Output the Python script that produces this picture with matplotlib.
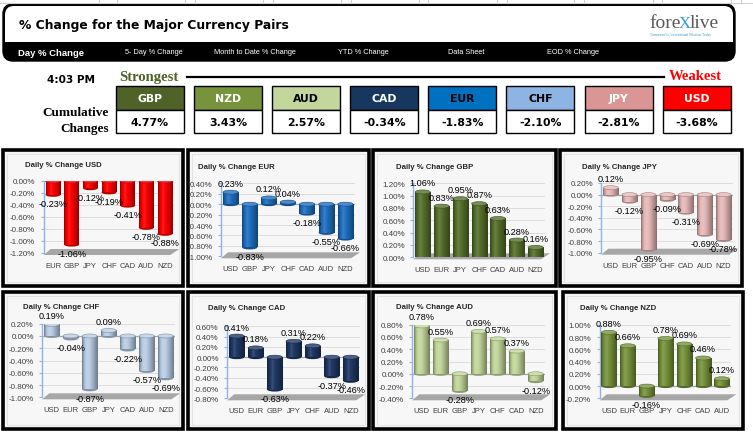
import numpy as np
import matplotlib
matplotlib.use("Agg")
import matplotlib.pyplot as plt
from matplotlib.patches import Rectangle, FancyBboxPatch, Ellipse, Polygon
from matplotlib.colors import to_rgb

W, H = 753, 435

# --- data ---------------------------------------------------------------
rank_ccy = ["GBP", "NZD", "AUD", "CAD", "EUR", "CHF", "JPY", "USD"]
rank_vals = [4.77, 3.43, 2.57, -0.34, -1.83, -2.10, -2.81, -3.68]
rank_colors = ["#4F6228", "#77933C", "#C3D69B", "#17375E", "#0070C0", "#8DB4E2", "#DA9694", "#FF0000"]
rank_txt = ["white", "white", "black", "white", "black", "black", "white", "white"]

usd_cats = ["EUR", "GBP", "JPY", "CHF", "CAD", "AUD", "NZD"]
usd_vals = [-0.23, -1.06, -0.12, -0.19, -0.41, -0.78, -0.88]
eur_cats = ["USD", "GBP", "JPY", "CHF", "CAD", "AUD", "NZD"]
eur_vals = [0.23, -0.83, 0.12, 0.04, -0.18, -0.55, -0.66]
gbp_cats = ["USD", "EUR", "JPY", "CHF", "CAD", "AUD", "NZD"]
gbp_vals = [1.06, 0.83, 0.95, 0.87, 0.63, 0.28, 0.16]
jpy_cats = ["USD", "EUR", "GBP", "CHF", "CAD", "AUD", "NZD"]
jpy_vals = [0.12, -0.12, -0.95, -0.09, -0.31, -0.69, -0.78]
chf_cats = ["USD", "EUR", "GBP", "JPY", "CAD", "AUD", "NZD"]
chf_vals = [0.19, -0.04, -0.87, 0.09, -0.22, -0.57, -0.69]
cad_cats = ["USD", "EUR", "GBP", "JPY", "CHF", "AUD", "NZD"]
cad_vals = [0.41, 0.18, -0.63, 0.31, 0.22, -0.37, -0.46]
aud_cats = ["USD", "EUR", "GBP", "JPY", "CHF", "CAD", "NZD"]
aud_vals = [0.78, 0.55, -0.28, 0.69, 0.57, 0.37, -0.12]
nzd_cats = ["USD", "EUR", "GBP", "JPY", "CHF", "CAD", "AUD"]
nzd_vals = [0.88, 0.66, -0.16, 0.78, 0.69, 0.46, 0.12]

menu_items = ["Day % Change", "5- Day % Change", "Month to Date % Change",
              "YTD % Change", "Data Sheet", "EOD % Change"]

COND = dict(family="DejaVu Sans", fontweight="bold")
LBL = "Liberation Sans"

fig = plt.figure(figsize=(W / 100, H / 100), dpi=100)
fig.patch.set_facecolor("white")

deco = fig.add_axes([0, 0, 1, 1], zorder=0)
deco.set_xlim(0, W)
deco.set_ylim(H, 0)
deco.axis("off")


def frect(x0, y0, x1, y1):
    return [x0 / W, 1 - y1 / H, (x1 - x0) / W, (y1 - y0) / H]


# spreadsheet grid remnants on top
deco.plot([0, W], [4, 4], color="#D0D0D0", lw=0.8)
for gx in [99, 117, 185, 195, 263, 273, 341, 351, 419, 428, 497, 507, 574, 584, 653, 662, 731, 741]:
    deco.plot([gx, gx], [0, 4], color="#D0D0D0", lw=0.8)

# --- header --------------------------------------------------------------
deco.add_patch(FancyBboxPatch((3, 5), 732, 57, boxstyle="round,pad=0,rounding_size=10",
                              fc="black", ec="black", lw=1))
deco.add_patch(FancyBboxPatch((5, 7), 728, 45, boxstyle="round,pad=0,rounding_size=9",
                              fc="white", ec="none"))
deco.add_patch(Rectangle((4, 43), 730, 12, fc="black", ec="none"))
deco.text(19, 25, "% Change for the Major Currency Pairs", fontsize=8.9, va="center", ha="left", **COND)

menu_x = [18, 125, 214, 338, 448, 547]
for i, (mx, m) in enumerate(zip(menu_x, menu_items)):
    deco.text(mx, 53, m, color="white", fontsize=6.8 if i == 0 else 5.3,
              fontweight="bold" if i == 0 else "normal", family=LBL, va="center", ha="left")

# logo
deco.text(649, 28, "fore", family="Liberation Serif", fontsize=14, color="#595959", va="baseline", ha="left")
deco.text(679, 28, "X", family="Liberation Serif", fontsize=12, color="#2E9BD6", va="baseline", ha="left")
deco.text(690, 28, "live", family="Liberation Serif", fontsize=14, color="#595959", va="baseline", ha="left")
deco.text(650, 35, "Tomorrow's Conventional Wisdom Today", family="Liberation Serif", fontsize=2.6,
          color="#2E9BD6", va="center", ha="left")

# --- strongest / weakest row ---------------------------------------------
deco.text(95, 80, "4:03 PM", fontsize=7.6, ha="right", va="center", **COND)
deco.text(119, 77, "Strongest", family="Liberation Serif", fontweight="bold", fontsize=10.5,
          color="#4F6228", ha="left", va="center")
deco.text(722, 77, "Weakest", family="Liberation Serif", fontweight="bold", fontsize=10.5,
          color="#FF0000", ha="right", va="center")
deco.plot([187, 664], [77.5, 77.5], color="black", lw=1.6)
deco.text(109, 113, "Cumulative", family="Liberation Serif", fontweight="bold", fontsize=9.5,
          ha="right", va="center")
deco.text(109, 129, "Changes", family="Liberation Serif", fontweight="bold", fontsize=9.5,
          ha="right", va="center")

for i, (c, v, col, tc) in enumerate(zip(rank_ccy, rank_vals, rank_colors, rank_txt)):
    bx = 116 + i * 78.1
    deco.add_patch(Rectangle((bx, 87), 68, 24, fc=col, ec="black", lw=1))
    deco.add_patch(Rectangle((bx, 111), 68, 23, fc="white", ec="black", lw=1))
    deco.text(bx + 34, 99.5, c, color=tc, fontsize=7.8, ha="center", va="center", **COND)
    deco.text(bx + 34, 123, f"{v:.2f}%", color="black", fontsize=7.8, ha="center", va="center", **COND)


# --- small 3D-ish bar panels ---------------------------------------------
def grad_colors(base, n=48):
    rgb = np.array(to_rgb(base))
    t = np.linspace(0, 1, n)
    s = np.interp(t, [0, 0.12, 0.33, 0.7, 1], [0.6, 0.88, 1.12, 0.85, 0.6])[:, None]
    out = np.where(s > 1, rgb + (1 - rgb) * (s - 1), rgb * s)
    return np.clip(out, 0, 1)[None, :, :]


def panel(box, title, tpos, ax_box, cats, vals, ymin, ymax, base):
    x0, y0, x1, y1 = box
    deco.add_patch(Rectangle((x0, y0), x1 - x0, y1 - y0, fc="#F5F5F5", ec="black", lw=2.6))
    deco.add_patch(Rectangle((x0 + 4, y0 + 4), x1 - x0 - 8, y1 - y0 - 8, fc="#F7F7F7", ec="#E0E0E0", lw=0.6))
    deco.text(tpos[0], tpos[1], title, family=LBL, fontweight="bold", fontsize=5.6,
              color="#262626", ha="left", va="center")

    ax = fig.add_axes(frect(*ax_box), zorder=2)
    ax.patch.set_alpha(0)
    wpx = ax_box[2] - ax_box[0]
    hpx = ax_box[3] - ax_box[1]
    ppu = hpx / (ymax - ymin)
    xs = np.arange(len(cats))

    bars = ax.bar(xs, vals, width=0.8, color=base, edgecolor="none", zorder=3)
    g = grad_colors(base)
    rgb = np.array(to_rgb(base))
    cap_h = 4 / ppu
    for x, v, p in zip(xs, vals, bars):
        lo, hi = min(0, v), max(0, v)
        im = ax.imshow(g, extent=(x - 0.4, x + 0.4, lo, hi), aspect="auto",
                       interpolation="bilinear", zorder=3.5)
        im.set_clip_path(p)
        ax.add_patch(Ellipse((x, lo), 0.8, cap_h, fc=rgb * 0.72, ec="none", zorder=3.4))
        ax.add_patch(Ellipse((x, hi), 0.8, cap_h, fc=np.clip(rgb + (1 - rgb) * 0.2, 0, 1),
                             ec=rgb * 0.7, lw=0.4, zorder=3.6))
        off = 6.5 if v >= 0 else -6.5
        ax.annotate(f"{v:.2f}%", (x, v), xytext=(0, off), textcoords="offset points",
                    ha="center", va="center", fontsize=6.6, family=LBL, color="black", zorder=6)

    ax.set_xlim(-0.5, len(cats) - 0.5)
    ax.set_ylim(ymin, ymax)
    ticks = np.round(np.arange(ymin, ymax + 0.001, 0.2), 2)
    ax.set_yticks(ticks)
    ax.set_yticklabels([f"{abs(t) if t == 0 else t:.2f}%" for t in ticks])
    ax.set_xticks(xs)
    ax.set_xticklabels(cats)
    for s in ["top", "right", "bottom"]:
        ax.spines[s].set_visible(False)
    ax.spines["left"].set_color("#8EB4E3")
    ax.spines["left"].set_linewidth(1)
    ax.tick_params(axis="y", length=2.5, width=0.8, color="#8EB4E3", pad=3.5,
                   labelsize=5.8, labelcolor="#404040")
    ax.tick_params(axis="x", length=0, pad=6.5, labelsize=5.5, labelcolor="#404040")
    for lab in ax.get_xticklabels() + ax.get_yticklabels():
        lab.set_family(LBL)
    ax.yaxis.grid(True, color="#D9D9D9", lw=0.6)
    ax.set_axisbelow(True)
    if ymin < 0 < ymax:
        ax.axhline(0, color="#A6A6A6", lw=0.9, zorder=2)
    # floor of the 3D chart
    fl = [(0, -2 / hpx), ((wpx - 4) / wpx, -2 / hpx), ((wpx + 5) / wpx, 4 / hpx), (7 / wpx, 4 / hpx)]
    ax.add_patch(Polygon(fl, closed=True, transform=ax.transAxes, fc="#A6A6A6", ec="none",
                         clip_on=False, zorder=2.5))
    return ax


panel((3, 151, 183, 287), "Daily % Change USD", (25, 166), (43.7, 182, 174.3, 254),
      usd_cats, usd_vals, -1.2, 0.0, "#FF0000")
panel((188, 151, 369, 287), "Daily % Change EUR", (198, 168), (221, 184.3, 355, 257.3),
      eur_cats, eur_vals, -1.0, 0.4, "#1F6FC0")
panel((373, 151, 556, 287), "Daily % Change GBP", (396, 168), (413.3, 184.3, 545, 258.3),
      gbp_cats, gbp_vals, 0.0, 1.2, "#56702C")
panel((560, 151, 742, 287), "Daily % Change JPY", (582, 168), (601.3, 184, 733, 253.7),
      jpy_cats, jpy_vals, -1.0, 0.2, "#E6B9B8")
panel((3, 293, 183, 430), "Daily % Change CHF", (23, 308), (42.2, 324.7, 175.2, 398.3),
      chf_cats, chf_vals, -1.0, 0.2, "#B9CDE5")
panel((188, 293, 369, 430), "Daily % Change CAD", (208, 309), (227.2, 327.3, 360.2, 399.3),
      cad_cats, cad_vals, -0.8, 0.6, "#1F3864")
panel((373, 293, 556, 430), "Daily % Change AUD", (396, 308), (412.2, 325.7, 545.2, 399.3),
      aud_cats, aud_vals, -0.4, 0.8, "#C3D69B")
panel((563, 293, 743, 430), "Daily % Change NZD", (580, 309), (599.6, 326, 731.3, 399.3),
      nzd_cats, nzd_vals, -0.2, 1.0, "#77933C")

fig.savefig("out.png", dpi=100)
